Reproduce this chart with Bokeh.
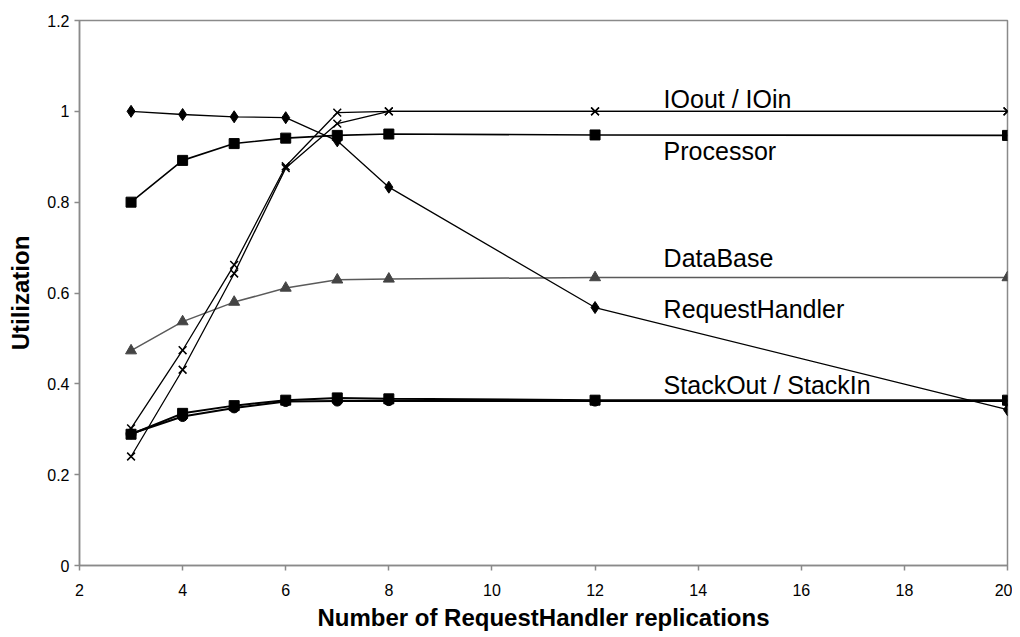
from bokeh.plotting import figure
from bokeh.models import ColumnDataSource, FixedTicker, Range1d
from bokeh.core.properties import value
from bokeh.embed import file_html
from bokeh.resources import INLINE

replications = [3, 4, 5, 6, 7, 8, 12, 20]
request_handler = [1.0, 0.993, 0.988, 0.986, 0.935, 0.833, 0.568, 0.343]
processor = [0.800, 0.892, 0.929, 0.941, 0.947, 0.950, 0.948, 0.947]
database = [0.473, 0.537, 0.580, 0.611, 0.629, 0.631, 0.634, 0.634]
io_out = [0.302, 0.474, 0.662, 0.879, 0.997, 1.0, 1.0, 1.0]
io_in = [0.240, 0.431, 0.643, 0.875, 0.973, 1.0, 1.0, 1.0]
stack_out = [0.289, 0.335, 0.352, 0.364, 0.369, 0.367, 0.364, 0.364]
stack_in = [0.290, 0.328, 0.347, 0.361, 0.362, 0.363, 0.362, 0.362]

label_names = ["IOout / IOin", "Processor", "DataBase", "RequestHandler", "StackOut / StackIn"]
label_x = [13.33, 13.33, 13.33, 13.33, 13.33]
label_y = [1.028, 0.913, 0.678, 0.565, 0.398]

x_ticks = [2, 4, 6, 8, 10, 12, 14, 16, 18, 20]
y_ticks = [0, 0.2, 0.4, 0.6, 0.8, 1.0, 1.2]
y_tick_labels = ["0", "0.2", "0.4", "0.6", "0.8", "1", "1.2"]

FONT = "Liberation Sans"
AXIS_GREY = "#8a8a8a"

p = figure(width=1012, height=637, output_backend="svg", toolbar_location=None,
           x_range=Range1d(2, 20), y_range=Range1d(0, 1.2),
           min_border_left=79, min_border_right=5, min_border_top=20, min_border_bottom=72)
p.grid.visible = False
p.background_fill_color = "white"
p.border_fill_color = "white"
p.outline_line_color = AXIS_GREY
p.outline_line_width = 1.5

for ax in (p.xaxis[0], p.yaxis[0]):
    ax.axis_line_color = AXIS_GREY
    ax.axis_line_width = 1.5
    ax.major_tick_line_color = AXIS_GREY
    ax.major_tick_line_width = 1.5
    ax.minor_tick_line_color = None
    ax.major_tick_in = 0
    ax.major_tick_out = 5
    ax.major_label_text_font = FONT
    ax.major_label_text_font_size = "16px"
    ax.major_label_text_color = "black"
    ax.axis_label_text_font = FONT
    ax.axis_label_text_font_size = "24px"
    ax.axis_label_text_font_style = "bold"
    ax.axis_label_text_color = "black"

p.xaxis.ticker = FixedTicker(ticks=x_ticks)
p.yaxis.ticker = FixedTicker(ticks=y_ticks)
p.yaxis.major_label_overrides = {t: l for t, l in zip(y_ticks, y_tick_labels)}
p.xaxis.axis_label = "Number of RequestHandler replications"
p.yaxis.axis_label = "Utilization"
p.xaxis.major_label_standoff = 13
p.xaxis.axis_label_standoff = 5
p.yaxis.major_label_standoff = 5
p.yaxis.axis_label_standoff = 10

src = ColumnDataSource(dict(x=replications, rh=request_handler, pr=processor, db=database,
                            io1=io_out, io2=io_in, s1=stack_out, s2=stack_in))

# Stack series
p.line("x", "s2", source=src, line_color="black", line_width=2)
p.scatter("x", "s2", source=src, marker="circle", size=10, fill_color="black", line_color="black")
p.line("x", "s1", source=src, line_color="black", line_width=2)
p.scatter("x", "s1", source=src, marker="square", size=10, fill_color="black", line_color="black")

# DataBase
p.line("x", "db", source=src, line_color="#5a5a5a", line_width=1.5)
p.scatter("x", "db", source=src, marker="triangle", size=11, fill_color="#444444", line_color="#444444")

# Processor
p.line("x", "pr", source=src, line_color="black", line_width=1.6)
p.scatter("x", "pr", source=src, marker="square", size=10, fill_color="black", line_color="black")

# RequestHandler
p.line("x", "rh", source=src, line_color="black", line_width=1.3)
p.scatter("x", "rh", source=src, marker="diamond", size=12, fill_color="black", line_color="black")

# IO series
p.line("x", "io1", source=src, line_color="black", line_width=1.3)
p.scatter("x", "io1", source=src, marker="x", size=11, line_color="black", line_width=1.5)
p.line("x", "io2", source=src, line_color="black", line_width=1.3)
p.scatter("x", "io2", source=src, marker="x", size=11, line_color="black", line_width=1.5)

lab = ColumnDataSource(dict(x=label_x, y=label_y, t=label_names))
p.text("x", "y", text="t", source=lab, text_font=value(FONT), text_font_size="25px",
       text_color="black", text_baseline="alphabetic", text_align="left")

open("out.html", "w").write(file_html(p, INLINE))
